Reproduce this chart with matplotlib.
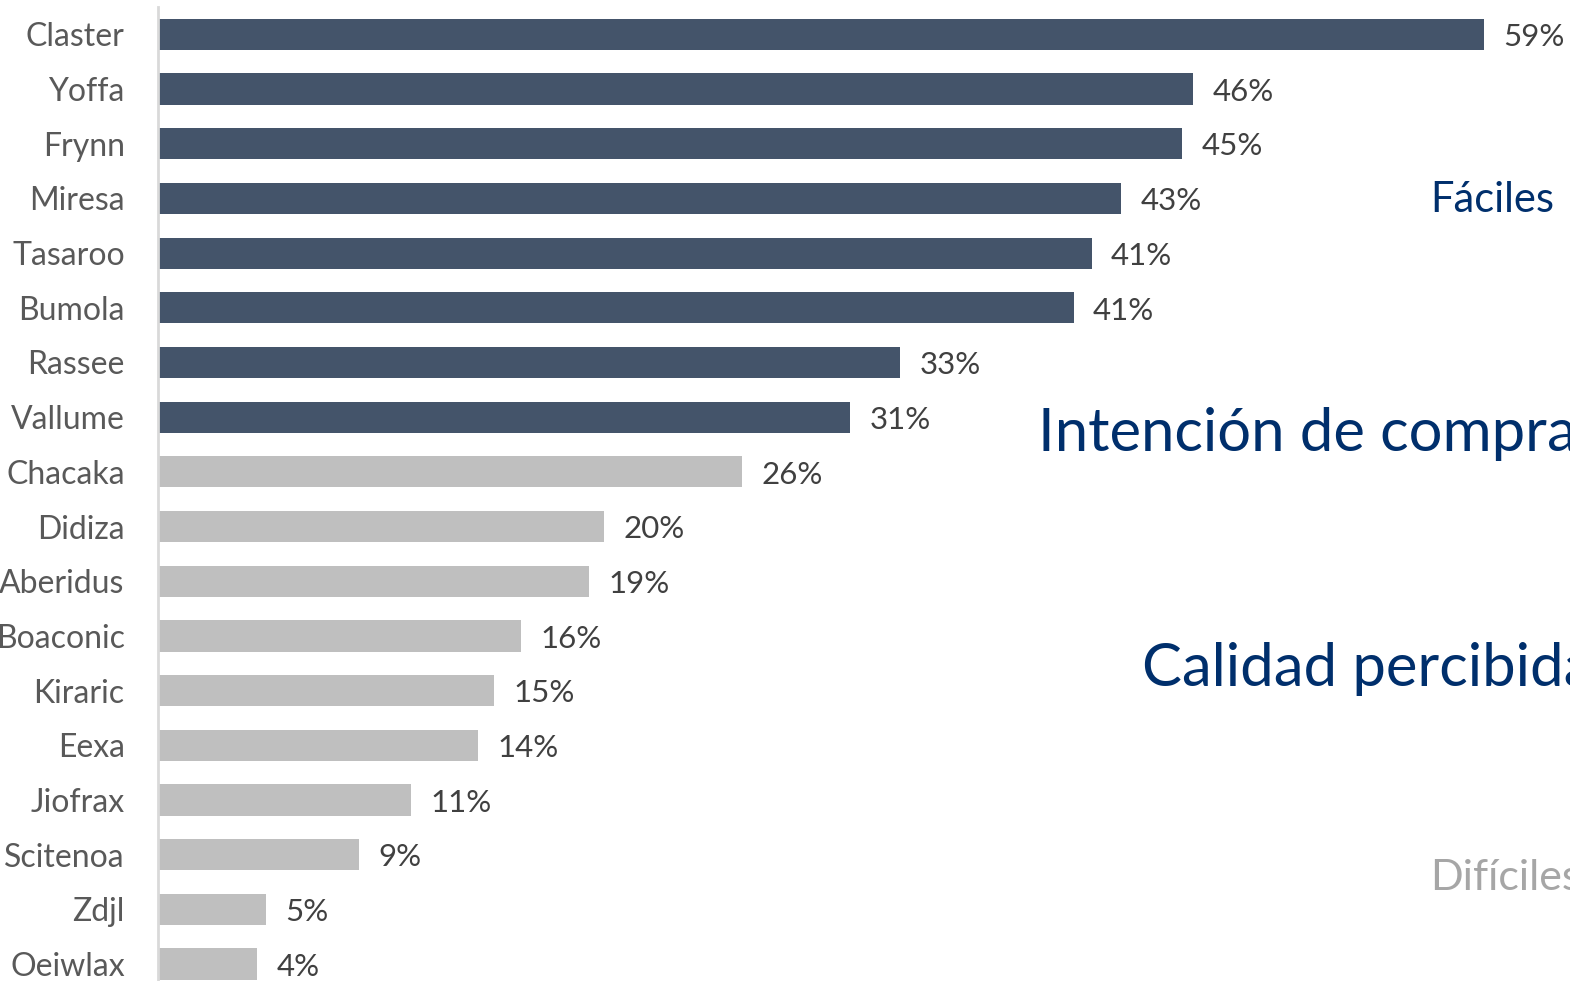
import matplotlib.pyplot as plt
import numpy as np

plt.rcParams['font.family'] = ['Lato', 'DejaVu Sans']

# datos
marcas = ['Claster', 'Yoffa', 'Frynn', 'Miresa', 'Tasaroo', 'Bumola', 'Rassee', 'Vallume',
          'Chacaka', 'Didiza', 'Aberidus', 'Boaconic', 'Kiraric', 'Eexa', 'Jiofrax',
          'Scitenoa', 'Zdjl', 'Oeiwlax']
valores = [58.8, 45.9, 45.4, 42.7, 41.4, 40.6, 32.9, 30.7,
           25.9, 19.8, 19.1, 16.1, 14.9, 14.2, 11.2, 8.9, 4.8, 4.4]
etiquetas = ['59%', '46%', '45%', '43%', '41%', '41%', '33%', '31%',
             '26%', '20%', '19%', '16%', '15%', '14%', '11%', '9%', '5%', '4%']
n_top = 8

colores = ['#44546a'] * n_top + ['#bfbfbf'] * (len(marcas) - n_top)

fig = plt.figure(figsize=(15.7, 9.81), dpi=100)
ax = fig.add_axes([158/1570, 0, 1 - 158/1570, 1 - 7/981])

y = np.arange(len(marcas))
ax.barh(y, valores, height=0.57, color=colores)
for i in range(len(marcas)):
    ax.annotate(etiquetas[i], (valores[i], y[i]), xytext=(14, -2), textcoords='offset points',
                va='center', ha='left', fontsize=22.5, color='#404040')

ax.set_ylim(17.31, -0.5)
ax.set_xlim(0, (1570 - 158) / 22.55)
ax.set_yticks(y)
ax.set_yticklabels(marcas, fontsize=23, color='#595959')
ax.tick_params(axis='y', length=0, pad=24)
ax.set_xticks([])
for s in ['top', 'right', 'bottom']:
    ax.spines[s].set_visible(False)
ax.spines['left'].set_color('#d9d9d9')
ax.spines['left'].set_linewidth(2)

fig.text(1430/1570, 1 - 200/981, 'Fáciles', fontsize=30, color='#002f6c', va='center')
fig.text(1038/1570, 1 - 434/981, 'Intención de compra', fontsize=43, color='#002f6c', va='center')
fig.text(1142/1570, 1 - 669/981, 'Calidad percibida', fontsize=43, color='#002f6c', va='center')
fig.text(1430/1570, 1 - 878/981, 'Difíciles', fontsize=31, color='#a6a6a6', va='center')

plt.savefig('out.png')
